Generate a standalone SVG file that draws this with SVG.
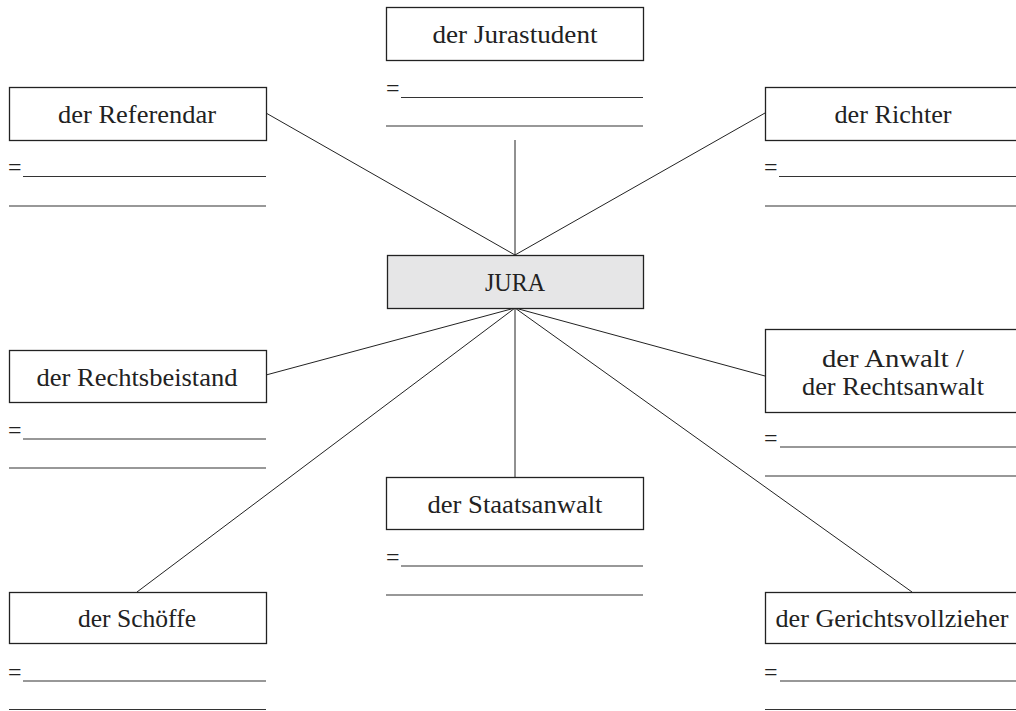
<svg xmlns="http://www.w3.org/2000/svg" width="1016" height="711" viewBox="0 0 1016 711">
<style>
.box{fill:#fff;stroke:#222;stroke-width:1.3}
.hub{fill:#e6e6e7;stroke:#222;stroke-width:1.3}
.lbl{font-family:"Liberation Serif","Times New Roman",serif;font-size:25.5px;fill:#222;text-anchor:middle}
.eq{font-family:"Liberation Serif","Times New Roman",serif;font-size:24px;fill:#222}
.blank{stroke:#333;stroke-width:1.2}
.con line{stroke:#222;stroke-width:1}
</style>
<rect width="1016" height="711" fill="#fff"/>
<g class="con">
<line x1="266" y1="113" x2="515" y2="255"/>
<line x1="765" y1="113" x2="515" y2="255"/>
<line x1="515" y1="140" x2="515" y2="255"/>
<line x1="266" y1="375" x2="515" y2="308"/>
<line x1="765" y1="376" x2="515" y2="308"/>
<line x1="137" y1="592" x2="515" y2="308"/>
<line x1="912" y1="592" x2="515" y2="308"/>
<line x1="515" y1="308" x2="515" y2="477"/>
</g>
<g id="jurastudent">
<rect class="box" x="386.5" y="7.5" width="257" height="53"/>
<text class="lbl" x="515" y="42.5" textLength="165" lengthAdjust="spacingAndGlyphs">der Jurastudent</text>
<text class="eq" x="386" y="96">=</text>
<line class="blank" x1="401" y1="97.5" x2="643" y2="97.5"/>
<line class="blank" x1="386" y1="126" x2="643" y2="126"/>
</g>
<g id="referendar">
<rect class="box" x="9.5" y="87.5" width="257" height="53"/>
<text class="lbl" x="137" y="122.5" textLength="158" lengthAdjust="spacingAndGlyphs">der Referendar</text>
<text class="eq" x="8" y="175">=</text>
<line class="blank" x1="23" y1="176.5" x2="266" y2="176.5"/>
<line class="blank" x1="9" y1="206" x2="266" y2="206"/>
</g>
<g id="richter">
<rect class="box" x="765.5" y="87.5" width="257" height="53"/>
<text class="lbl" x="893" y="122.5" textLength="117" lengthAdjust="spacingAndGlyphs">der Richter</text>
<text class="eq" x="764" y="175">=</text>
<line class="blank" x1="779" y1="176.5" x2="1022" y2="176.5"/>
<line class="blank" x1="765" y1="206" x2="1022" y2="206"/>
</g>
<g id="jura">
<rect class="hub" x="387.5" y="255.5" width="256" height="53"/>
<text class="lbl" x="515" y="290.5" textLength="60" lengthAdjust="spacingAndGlyphs">JURA</text>
</g>
<g id="rechtsbeistand">
<rect class="box" x="9.5" y="350.5" width="257" height="52"/>
<text class="lbl" x="137" y="385.5" textLength="201" lengthAdjust="spacingAndGlyphs">der Rechtsbeistand</text>
<text class="eq" x="8" y="437.5">=</text>
<line class="blank" x1="23" y1="439" x2="266" y2="439"/>
<line class="blank" x1="9" y1="468" x2="266" y2="468"/>
</g>
<g id="anwalt">
<rect class="box" x="765.5" y="329.5" width="257" height="83"/>
<text class="lbl" x="893" y="367" textLength="142" lengthAdjust="spacingAndGlyphs">der Anwalt /</text>
<text class="lbl" x="893" y="394.5" textLength="182" lengthAdjust="spacingAndGlyphs">der Rechtsanwalt</text>
<text class="eq" x="764" y="445.5">=</text>
<line class="blank" x1="780" y1="447" x2="1022" y2="447"/>
<line class="blank" x1="765" y1="476" x2="1022" y2="476"/>
</g>
<g id="staatsanwalt">
<rect class="box" x="386.5" y="477.5" width="257" height="52"/>
<text class="lbl" x="515" y="512.5" textLength="175" lengthAdjust="spacingAndGlyphs">der Staatsanwalt</text>
<text class="eq" x="386" y="564.5">=</text>
<line class="blank" x1="401" y1="566" x2="643" y2="566"/>
<line class="blank" x1="386" y1="595" x2="643" y2="595"/>
</g>
<g id="schoeffe">
<rect class="box" x="9.5" y="592.5" width="257" height="51"/>
<text class="lbl" x="137" y="626.5" textLength="118" lengthAdjust="spacingAndGlyphs">der Schöffe</text>
<text class="eq" x="8" y="679.5">=</text>
<line class="blank" x1="23" y1="681" x2="266" y2="681"/>
<line class="blank" x1="9" y1="709.5" x2="266" y2="709.5"/>
</g>
<g id="gerichtsvollzieher">
<rect class="box" x="765.5" y="592.5" width="257" height="51"/>
<text class="lbl" x="892" y="626.5" textLength="233" lengthAdjust="spacingAndGlyphs">der Gerichtsvollzieher</text>
<text class="eq" x="764" y="679.5">=</text>
<line class="blank" x1="780" y1="681" x2="1022" y2="681"/>
<line class="blank" x1="765" y1="709.5" x2="1022" y2="709.5"/>
</g>
</svg>
